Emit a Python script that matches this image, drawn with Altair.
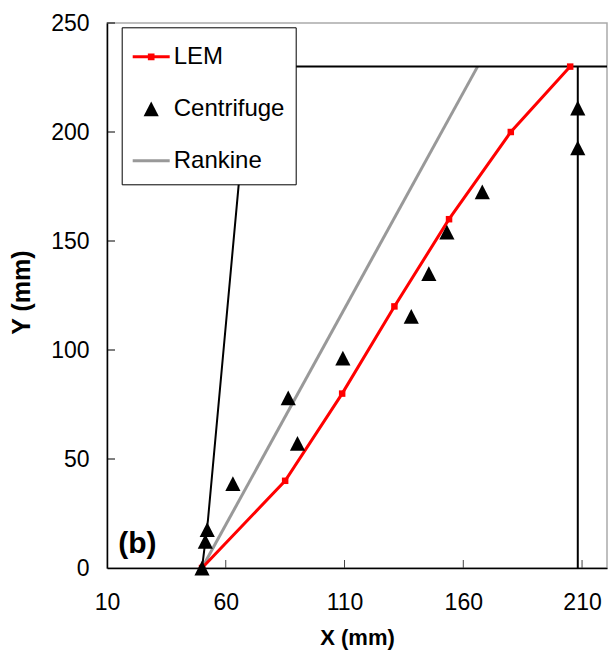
import altair as alt
import pandas as pd

# ---------------- data ----------------
lem_x = [50, 85, 109, 131, 154, 180, 205]
lem_y = [0, 40, 80, 120, 160, 200, 230]

cent_x = [50, 51.4, 52.2, 63, 86.3, 90.2, 109.3, 138.1, 145.5, 153.1, 168, 208.2, 208.2]
cent_y = [0, 12.2, 17.6, 38.7, 78, 57.2, 96.3, 115.4, 135, 154.1, 172.5, 192.7, 211]

rank_x = [50, 166]
rank_y = [0, 230]

wall1_x = [50, 52.5, 70, 221]
wall1_y = [0, 22, 230, 230]
wall2_x = [208.2, 208.2]
wall2_y = [230, 0]

series = ["LEM", "Centrifuge", "Rankine"]
series_colors = ["#ff0000", "#000000", "#999999"]

x_ticks = [10, 60, 110, 160, 210]
y_ticks = [0, 50, 100, 150, 200, 250]

panel_label = "(b)"
label_x, label_y = [22.8], [11]

FONT = "Liberation Sans"

# ---------------- tables ----------------
lem_df = pd.DataFrame({"x": lem_x, "y": lem_y, "i": range(len(lem_x))})
cent_df = pd.DataFrame({"x": cent_x, "y": cent_y, "series": ["Centrifuge"] * len(cent_x)})
rank_df = pd.DataFrame({"x": rank_x, "y": rank_y, "i": range(len(rank_x))})
wall_df = pd.DataFrame({
    "x": wall1_x + wall2_x,
    "y": wall1_y + wall2_y,
    "seg": ["a"] * len(wall1_x) + ["b"] * len(wall2_x),
    "i": list(range(len(wall1_x))) + list(range(len(wall2_x))),
})
xt_df = pd.DataFrame({"x": x_ticks[1:]})
yt_df = pd.DataFrame({"y": y_ticks[1:]})
lab_df = pd.DataFrame({"x": label_x, "y": label_y, "t": [panel_label]})

W, H = 500, 545

x_axis = alt.Axis(values=x_ticks, title="X (mm)", labelFlush=False, ticks=False, tickSize=0,
                  labelPadding=23, domainColor="black", domainWidth=1.5, grid=False,
                  titleY=76, titleBaseline="alphabetic")
y_axis = alt.Axis(values=y_ticks, title="Y (mm)", ticks=False, tickSize=0, labelPadding=18,
                  domainColor="black", domainWidth=1.5, grid=False, titleFontSize=25,
                  titleX=-78, titleY=269, titleAngle=270, titleBaseline="alphabetic",
                  titleAlign="center")

X = alt.X("x:Q", scale=alt.Scale(domain=[10, 220.5], nice=False, zero=False), axis=x_axis)
Y = alt.Y("y:Q", scale=alt.Scale(domain=[0, 250], nice=False, zero=False), axis=y_axis)

# custom symbols (unit coords, r = sqrt(size)/2)
lem_sym = "M-1,-0.08H1V0.08H-1Z M-0.18,-0.18H0.18V0.18H-0.18Z"
tri_sym = "M0,-0.4L0.41,0.4L-0.41,0.4Z"
rank_sym = "M-1,-0.08H1V0.08H-1Z"

legend = alt.Legend(orient="none", legendX=14.7, legendY=4.3, title=None,
                    labelFont=FONT, labelFontSize=24, labelColor="black",
                    symbolSize=1369, symbolStrokeWidth=0, labelOffset=4,
                    padding=11, rowPadding=21, strokeColor="black", fillColor="white",
                    symbolOpacity=1)

rank = alt.Chart(rank_df).mark_line(color="#999999", strokeWidth=3).encode(x=X, y=Y, order="i:Q")
wall = alt.Chart(wall_df).mark_line(color="black", strokeWidth=2, clip=True).encode(
    x=X, y=Y, detail="seg:N", order="i:Q")
lem_line = alt.Chart(lem_df).mark_line(color="#ff0000", strokeWidth=3).encode(x=X, y=Y, order="i:Q")
lem_pts = alt.Chart(lem_df).mark_square(color="#ff0000", size=42, opacity=1).encode(x=X, y=Y)
cent = alt.Chart(cent_df).mark_point(filled=True, opacity=1, size=1369, strokeWidth=0).encode(
    x=X, y=Y,
    color=alt.Color("series:N", scale=alt.Scale(domain=series, range=series_colors), legend=legend),
    shape=alt.Shape("series:N", scale=alt.Scale(domain=series, range=[lem_sym, tri_sym, rank_sym]),
                    legend=legend),
)
xt = alt.Chart(xt_df).mark_rule(color="#444444", strokeWidth=1).encode(
    x=X, y=alt.value(H), y2=alt.value(H - 8))
yt = alt.Chart(yt_df).mark_rule(color="black", strokeWidth=1).encode(
    y=Y, x=alt.value(0), x2=alt.value(8))
lab = alt.Chart(lab_df).mark_text(font=FONT, fontSize=30, fontWeight="bold", color="black",
                                  baseline="middle", align="center").encode(x=X, y=Y, text="t:N")

chart = alt.layer(rank, wall, lem_line, lem_pts, cent, xt, yt, lab).properties(
    width=W, height=H,
    autosize=alt.AutoSizeParams(type="none"),
    padding={"left": 107, "top": 23, "right": 1, "bottom": 87},
    background="white",
).configure_view(stroke="#aaaaaa", strokeWidth=1.5).configure_axis(
    labelFont=FONT, labelFontSize=23, labelColor="black",
    titleFont=FONT, titleFontSize=22, titleFontWeight="bold", titleColor="black",
)

chart.save("out.html", embed_options={"renderer": "svg", "actions": False})
